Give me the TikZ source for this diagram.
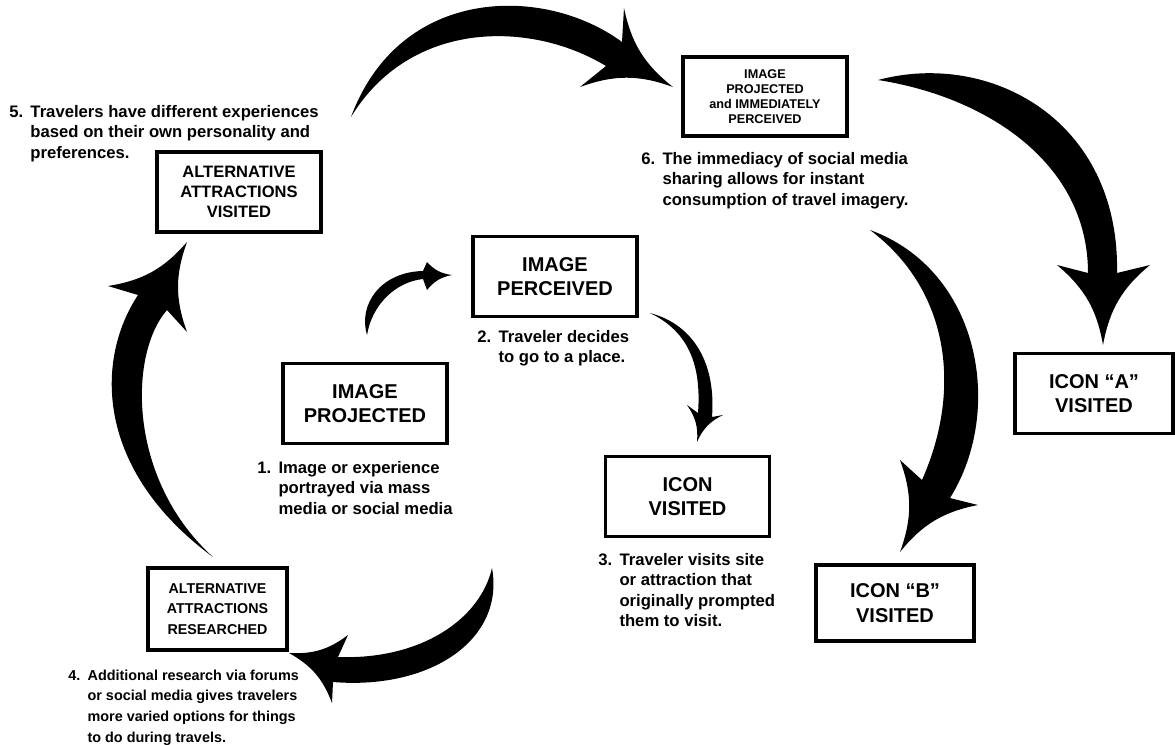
\documentclass[tikz,border=0pt]{standalone}
\usepackage{fontspec}
\setmainfont{Liberation Sans}
\begin{document}
\begin{tikzpicture}[x=0.75pt,y=-0.75pt,
  box/.style = {draw,line width=2.6pt,align=center,inner sep=2pt},
  big/.style = {box,font=\fontsize{15}{18.5}\selectfont\bfseries,
  minimum width=123pt,minimum height=60pt},
  mid/.style = {box,font=\fontsize{10.7}{15.4}\selectfont\bfseries,
  minimum width=123pt,minimum height=60pt},
  small/.style = {box,font=\fontsize{9.5}{11.3}\selectfont\bfseries,
  minimum width=123pt,minimum height=59pt},
  note/.style = {anchor=base west,inner sep=0pt,
  font=\fontsize{12.5}{15.4}\selectfont\bfseries},
  fat/.style = {fill=black},
  barb/.style = {bend right=20}]
 \useasboundingbox (0,0) rectangle (1175,744);
 % boxes
 \node[big] (proj) at (365,403.5) {IMAGE\\PROJECTED};
 \node[big] (perc) at (555,276.5) {IMAGE\\PERCEIVED};
 \node[big] (icon) at (687.5,496.5) {ICON\\VISITED};
 \node[big,minimum width=118.5pt] (iconA) at (1094,393.5) {ICON “A”\\VISITED};
 \node[big,minimum width=118.5pt,minimum height=57pt] (iconB) at (895,603) {ICON “B”\\VISITED};
 \node[mid,minimum width=104pt,minimum height=61.5pt] (res) at (217.5,609) {ALTERNATIVE\\ATTRACTIONS\\RESEARCHED};
 \node[mid,font=\fontsize{12.4}{15.2}\selectfont\bfseries] (alt) at (239,192) {ALTERNATIVE\\ATTRACTIONS\\VISITED};
 \node[small] (imm) at (765,96.5) {IMAGE\\PROJECTED\\and IMMEDIATELY\\PERCEIVED};
 % notes
 \node[note] (n1) at (257,473) {\begin{tabular}[t]{@{}l@{\hspace{5.5pt}}l@{}}1.&Image or experience\\&portrayed via mass\\&media or social media\end{tabular}};
 \node[note] (n2) at (477,342) {\begin{tabular}[t]{@{}l@{\hspace{5.5pt}}l@{}}2.&Traveler decides\\&to go to a place.\end{tabular}};
 \node[note] (n3) at (598,565) {\begin{tabular}[t]{@{}l@{\hspace{5.5pt}}l@{}}3.&Traveler visits site\\&or attraction that\\&originally prompted\\&them to visit.\end{tabular}};
 \node[note,font=\fontsize{10.8}{15.6}\selectfont\bfseries] (n4) at (68,680) {\begin{tabular}[t]{@{}l@{\hspace{5.5pt}}l@{}}4.&Additional research via forums\\&or social media gives travelers\\&more varied options for things\\&to do during travels.\end{tabular}};
 \node[note] (n5) at (9,117) {\begin{tabular}[t]{@{}l@{\hspace{5.5pt}}l@{}}5.&Travelers have different experiences\\&based on their own personality and\\&preferences.\end{tabular}};
 \node[note] (n6) at (641,164) {\begin{tabular}[t]{@{}l@{\hspace{5.5pt}}l@{}}6.&The immediacy of social media\\&sharing allows for instant\\&consumption of travel imagery.\end{tabular}};
 % fat arrows
 \fill[fat] (367,335) .. controls (358,305) and (380,272) .. (423,271) -- (427,262)
  to[barb] (452,275) to[barb] (427,290) -- (423,279)
  .. controls (395,282) and (372,305) .. (367,335);
 \fill[fat] (650,313) .. controls (695,325) and (716,365) .. (712,417) -- (723,415)
  to[barb] (697,442) to[barb] (687,405) -- (698,413)
  .. controls (702,360) and (685,330) .. (650,313);
 \fill[fat] (492,568) .. controls (505,640) and (430,690) .. (333,682) -- (332,703)
  to[barb] (289,653) to[barb] (348,635) -- (338,657)
  .. controls (420,660) and (480,620) .. (492,568);
 \fill[fat] (213,557) .. controls (95,470) and (95,360) .. (138,295) -- (108,286)
  to[barb] (187,242) to[barb] (187,332) -- (167,310)
  .. controls (128,355) and (128,480) .. (213,557);
 \fill[fat] (351,117) .. controls (400,-15) and (545,-15) .. (622,42) -- (624,8)
  to[barb] (673,87) to[barb] (580,87) -- (606,66)
  .. controls (530,20) and (410,20) .. (351,117);
 \fill[fat] (878,80) .. controls (990,50) and (1120,120) .. (1117,273) -- (1150,265)
  to[barb] (1103,345) to[barb] (1057,265) -- (1088,273)
  .. controls (1088,163) and (987,97) .. (878,80);
 \fill[fat] (870,230) .. controls (980,270) and (1005,410) .. (950,498) -- (978,505)
  to[barb] (900,552) to[barb] (900,460) -- (922,480)
  .. controls (962,390) and (950,290) .. (870,230);
\end{tikzpicture}
\end{document}
